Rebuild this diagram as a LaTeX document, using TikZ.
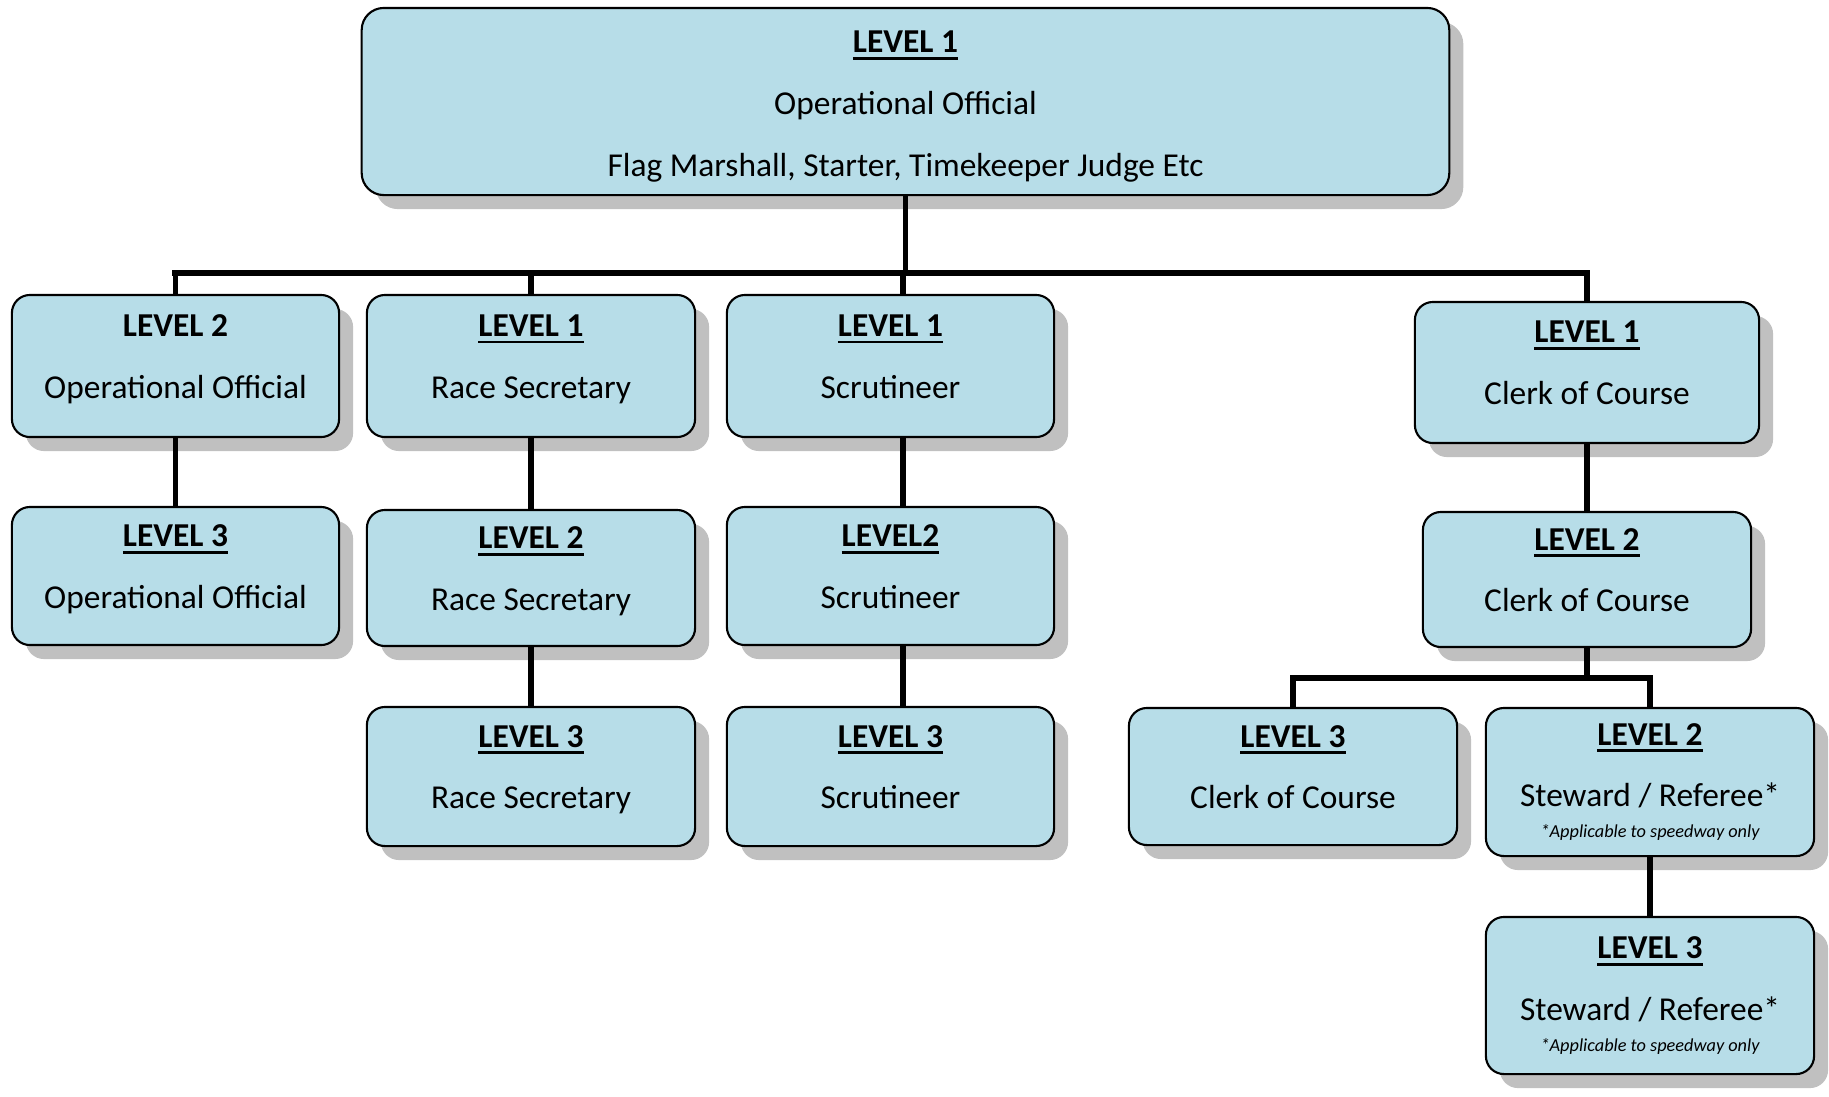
\documentclass[tikz,border=0pt]{standalone}
\usepackage{fontspec}
\setmainfont{Carlito}
\usetikzlibrary{shadows}
\definecolor{boxblue}{RGB}{183,221,232}
\definecolor{shadowgray}{RGB}{192,192,192}
\newcommand{\lvl}[1]{\textbf{\vtop{\hbox{#1}\kern1.2pt\hrule height 0.8pt}}}
\newcommand{\lowstrut}{\rule[-5.4pt]{0pt}{5.4pt}}

\begin{document}
\begin{tikzpicture}[x=0.01cm,y=-0.01cm,
    orgbox/.style={draw,line width=0.6pt,fill=boxblue,rounded corners=0.18cm,align=center,
      inner sep=0pt,font=\fontsize{9.5}{11.4}\selectfont,
      drop shadow={shadow xshift=0.14cm,shadow yshift=-0.14cm,fill=shadowgray,opacity=1}},
    link/.style={line width=1.5pt},
    bus/.style={line width=1.8pt,line cap=rect}]
    \useasboundingbox (0,0) rectangle (1829,1096);
    % top of the tree
    \node[orgbox,minimum width=10.87cm,minimum height=1.87cm,rounded corners=0.22cm] (top) at (905.5,101.5)
      {\rule{0pt}{9pt}\lvl{LEVEL 1}\\[6.2pt]Operational Official\\[6.2pt]Flag Marshall, Starter, Timekeeper Judge Etc};
    \node[orgbox,minimum width=3.27cm,minimum height=1.42cm] (op2) at (175.5,366)
      {\textbf{LEVEL 2}\\[6.2pt]Operational Official\lowstrut};
    % the plain boxes
    \foreach \name/\x/\y/\w/\h/\lv/\role in {
        race1/531/366/3.28/1.42/LEVEL 1/Race Secretary,
        scrut1/890.5/366/3.27/1.42/LEVEL 1/Scrutineer,
        clerk1/1587/372.5/3.44/1.41/LEVEL 1/Clerk of Course,
        op3/175.5/576/3.27/1.38/LEVEL 3/Operational Official,
        race2/531/578/3.28/1.36/LEVEL 2/Race Secretary,
        scrut2/890.5/576/3.27/1.38/LEVEL2/Scrutineer,
        clerk2/1587/579.5/3.28/1.35/LEVEL 2/Clerk of Course,
        race3/531/776.5/3.28/1.39/LEVEL 3/Race Secretary,
        scrut3/890.5/776.5/3.27/1.39/LEVEL 3/Scrutineer,
        clerk3/1293/776.5/3.28/1.37/LEVEL 3/Clerk of Course}{
      \node[orgbox,minimum width=\w cm,minimum height=\h cm] (\name) at (\x,\y) {\lvl{\lv}\\[6.2pt]\role\lowstrut};
    }
    \node[orgbox,minimum width=3.28cm,minimum height=1.48cm] (stew2) at (1650,782)
      {\lvl{LEVEL 2}\\[6.2pt]Steward / Referee*\\[-2.6pt]{\fontsize{5.2}{6}\selectfont\itshape *Applicable to speedway only}};
    \node[orgbox,minimum width=3.28cm,minimum height=1.57cm] (stew3) at (1650,995.5)
      {\lvl{LEVEL 3}\\[6.2pt]Steward / Referee*\\[-2.6pt]{\fontsize{5.2}{6}\selectfont\itshape *Applicable to speedway only}};
    % connectors
    \coordinate (sc) at (903,0);
    \draw[link] (top.south) -- ++(0,77) coordinate (hub);
    \draw[bus] (hub -| op2) -- (hub -| clerk1);
    \foreach \n in {op2,race1,clerk1}
      \draw[link] (hub -| \n) -- (\n.north);
    \draw[link] (hub -| sc) -- (sc |- scrut1.north);
    \draw[link] (op2.south) -- (op3.north);
    \draw[link] (race1.south) -- (race2.north);
    \draw[link] (race2.south) -- (race3.north);
    \draw[link] (scrut1.south -| sc) -- (scrut2.north -| sc);
    \draw[link] (scrut2.south -| sc) -- (scrut3.north -| sc);
    \draw[link] (clerk1.south) -- (clerk2.north);
    \draw[link] (clerk2.south) -- ++(0,30) coordinate (hub2);
    \draw[bus] (hub2 -| clerk3) -- (hub2 -| stew2);
    \foreach \n in {clerk3,stew2}
      \draw[link] (hub2 -| \n) -- (\n.north);
    \draw[link] (stew2.south) -- (stew3.north);
\end{tikzpicture}
\end{document}
